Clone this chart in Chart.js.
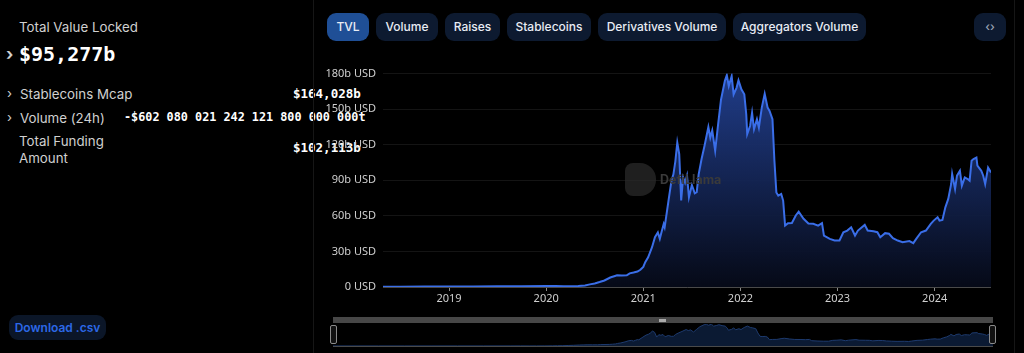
<!DOCTYPE html>
<html>
<head>
<meta charset="utf-8">
<script src="https://cdn.jsdelivr.net/npm/chart.js@4"></script>
<style>
  html, body { margin: 0; padding: 0; background: #000; overflow: hidden; }
  body { width: 1024px; height: 353px; position: relative; font-family: Inter, "Noto Sans", sans-serif; color: #fff; }
  .abs { position: absolute; white-space: nowrap; }
  .lbl { color: #d0d0d0; font-size: 13.3px; }
  .mono { font-family: "DejaVu Sans Mono", monospace; font-weight: bold; color: #fff; }
  .chev { color: #cfcfcf; font-size: 13px; }
  .btn { position: absolute; top: 13px; height: 28px; line-height: 28px; border-radius: 9px; background: #0d1a30; color: #e8ecf4; font-size: 12px; font-weight: 500; text-align: center; }
  .btn.on { background: #1f4f96; }
  #main { position: absolute; left: 313px; top: 60px; width: 678px; height: 247px; }
  #mini { position: absolute; left: 333px; top: 324px; width: 660px; height: 22px; }
</style>
</head>
<body>
<!-- left summary panel -->
<div class="abs lbl" style="left:19px;top:19px;">Total Value Locked</div>
<div class="abs chev" style="left:6px;top:44px;font-size:17px;font-weight:bold;">›</div>
<div class="abs mono" style="left:19px;top:42px;font-size:20px;">$95,277b</div>

<div class="abs chev" style="left:7px;top:85px;">›</div>
<div class="abs lbl" style="left:20px;top:86px;">Stablecoins Mcap</div>
<div class="abs mono" style="left:293px;top:86px;font-size:12.5px;">$164,028b</div>

<div class="abs chev" style="left:7px;top:109px;">›</div>
<div class="abs lbl" style="left:20px;top:110px;">Volume (24h)</div>
<div class="abs mono" style="left:124px;top:110px;font-size:11.8px;">-$602 080 021 242 121 800 000 000t</div>

<div class="abs lbl" style="left:19px;top:133px;line-height:17px;">Total Funding<br>Amount</div>
<div class="abs mono" style="left:293px;top:140px;font-size:12.5px;">$102,113b</div>

<div class="abs" style="left:9px;top:315px;width:97px;height:25px;line-height:25px;border-radius:9px;background:#0b1628;color:#2c68e6;font-size:12px;font-weight:600;text-align:center;">Download .csv</div>

<div class="abs" style="left:313px;top:0;width:1px;height:353px;background:#161616;"></div>
<div class="abs" style="left:1014px;top:0;width:1px;height:353px;background:#161616;"></div>

<!-- chart selector buttons -->
<div class="btn on" style="left:327px;width:42px;">TVL</div>
<div class="btn" style="left:376px;width:62px;">Volume</div>
<div class="btn" style="left:445px;width:55px;">Raises</div>
<div class="btn" style="left:507px;width:84px;">Stablecoins</div>
<div class="btn" style="left:598px;width:128px;">Derivatives Volume</div>
<div class="btn" style="left:733px;width:133px;">Aggregators Volume</div>
<div class="btn" style="left:974px;width:32px;color:#9aa3b5;font-size:12px;">&lsaquo;&rsaquo;</div>

<div id="main"><canvas id="tvlChart"></canvas></div>

<!-- watermark -->
<div class="abs" style="left:625px;top:163px;width:31px;height:33px;border-radius:8px 16px 16px 8px;background:#2a2a2a;opacity:0.75;"></div>
<div class="abs" style="left:660px;top:172px;color:#3a3a3a;font-size:12.5px;font-weight:700;">DefiLlama</div>

<!-- range brush -->
<div class="abs" style="left:333px;top:317px;width:660px;height:6px;background:#474747;"></div>
<div class="abs" style="left:659px;top:319px;width:7px;height:3px;background:#aaa;"></div>
<div id="mini"><canvas id="miniChart"></canvas></div>
<div class="abs" style="left:333px;top:346px;width:660px;height:1px;background:#4a4a4a;"></div>
<div class="abs" style="left:330px;top:325px;width:5px;height:17px;border:1px solid #8a8a8a;border-radius:2px;background:#111;"></div>
<div class="abs" style="left:989px;top:325px;width:5px;height:17px;border:1px solid #8a8a8a;border-radius:2px;background:#111;"></div>

<script>
// dates as decimal years, TVL in billions USD
const years = [
  2018.32, 2018.5, 2018.75, 2019.0, 2019.25, 2019.5, 2019.75, 2020.0, 2020.1, 2020.18,
  2020.25, 2020.33, 2020.4, 2020.45, 2020.5, 2020.55, 2020.6, 2020.66, 2020.7, 2020.73,
  2020.78, 2020.83, 2020.86, 2020.9, 2020.94, 2020.97, 2021.0, 2021.02, 2021.05, 2021.09,
  2021.12, 2021.15, 2021.17, 2021.19, 2021.21, 2021.22, 2021.26, 2021.29, 2021.31, 2021.33,
  2021.35, 2021.37, 2021.39, 2021.41, 2021.43, 2021.45, 2021.47, 2021.5, 2021.53, 2021.55,
  2021.57, 2021.6, 2021.63, 2021.67, 2021.69, 2021.71, 2021.74, 2021.77, 2021.8, 2021.84,
  2021.86, 2021.88, 2021.91, 2021.93, 2021.96, 2021.98, 2022.01, 2022.04, 2022.06, 2022.07,
  2022.1, 2022.12, 2022.14, 2022.17, 2022.19, 2022.22, 2022.25, 2022.28, 2022.3, 2022.33,
  2022.35, 2022.37, 2022.39, 2022.42, 2022.44, 2022.46, 2022.49, 2022.53, 2022.57, 2022.6,
  2022.65, 2022.7, 2022.75, 2022.8, 2022.84, 2022.86, 2022.92, 2022.97, 2023.02, 2023.06,
  2023.1, 2023.14, 2023.18, 2023.21, 2023.28, 2023.31, 2023.37, 2023.41, 2023.44, 2023.49,
  2023.53, 2023.57, 2023.62, 2023.67, 2023.74, 2023.78, 2023.81, 2023.86, 2023.91, 2023.96,
  2023.99, 2024.03, 2024.05, 2024.08, 2024.11, 2024.14, 2024.17, 2024.18, 2024.21, 2024.23,
  2024.26, 2024.28, 2024.31, 2024.34, 2024.36, 2024.38, 2024.4, 2024.43, 2024.44, 2024.48,
  2024.5, 2024.52, 2024.55, 2024.58
];
const tvl = [
  0.3, 0.3, 0.4, 0.4, 0.5, 0.6, 0.6, 0.8, 0.9, 0.6,
  0.7, 0.9, 1.3, 2.2, 3.0, 4.2, 5.5, 8.0, 9.0, 9.8,
  9.6, 9.8, 11.5, 12.2, 13.0, 14.5, 17, 21, 25, 33.6,
  42, 46, 40.6, 47, 53, 50.4, 73, 89.7, 95, 106,
  121.8, 112, 73, 92.4, 88, 93.9, 75.6, 86, 79, 80,
  95, 108, 119, 135, 126, 132, 115, 137, 158, 174,
  178.7, 169.5, 177.9, 162.5, 168, 174.3, 166.7, 162.5, 145.7, 129,
  136, 147, 133, 141.5, 134.5, 151.3, 163, 151.3, 148.5, 141.5,
  106.5, 79.8, 77, 78.5, 72.9, 51.8, 53.8, 54, 60.3, 63.5,
  57.5, 53.5, 53.3, 51.8, 53.8, 43.4, 40.6, 39.2, 39.2, 46.2,
  47.6, 50.4, 43.4, 47.6, 52.4, 47.6, 47, 46.2, 42, 45.4,
  44.9, 41.2, 39.2, 37.8, 38.7, 37, 40.6, 46.2, 47.6, 53.3,
  56, 58.8, 56, 56.6, 67.2, 74.3, 86.9, 95.3, 82.7, 93.9,
  98, 85.5, 92.4, 91.1, 89.7, 106.5, 107.9, 109.2, 102.3, 98,
  93.9, 86.9, 100.8, 96.6
];
const yearTicks = [2019, 2020, 2021, 2022, 2023, 2024];
const valueTicks = [0, 30, 60, 90, 120, 150, 180];

const points = years.map((x, i) => ({ x, y: tvl[i] }));

function fillGradient(context, top, bottom) {
  const { ctx, chartArea } = context.chart;
  if (!chartArea) return top;
  const g = ctx.createLinearGradient(0, chartArea.top, 0, chartArea.bottom);
  g.addColorStop(0, top);
  g.addColorStop(1, bottom);
  return g;
}

const tickFont = { family: 'Noto Sans', size: 11 };

new Chart(document.getElementById('tvlChart').getContext('2d'), {
  type: 'line',
  data: {
    datasets: [{
      label: 'TVL',
      data: points,
      borderColor: '#3a6ee8',
      borderWidth: 2,
      pointRadius: 0,
      tension: 0,
      fill: 'origin',
      backgroundColor: (c) => fillGradient(c, 'rgba(34,64,145,0.95)', 'rgba(6,10,24,0.95)'),
    }],
  },
  options: {
    responsive: true,
    maintainAspectRatio: false,
    animation: false,
    layout: { padding: { top: 12.5, right: 0, bottom: 0, left: 0 } },
    plugins: { legend: { display: false }, tooltip: { enabled: false } },
    scales: {
      x: {
        type: 'linear',
        min: years[0],
        max: years[years.length - 1],
        afterBuildTicks: (axis) => { axis.ticks = yearTicks.map((v) => ({ value: v })); },
        afterFit: (axis) => { axis.height = 20; },
        grid: { display: true, drawOnChartArea: false, drawTicks: true, tickLength: 4, color: '#8a8a8a' },
        border: { display: true, color: '#4a4a4a' },
        ticks: { color: '#cfcfcf', font: tickFont, padding: 1, callback: (v) => String(v) },
      },
      y: {
        min: 0,
        max: 180,
        afterBuildTicks: (axis) => { axis.ticks = valueTicks.map((v) => ({ value: v })); },
        afterFit: (axis) => { axis.width = 70; },
        grid: { color: 'rgba(255,255,255,0.08)', drawTicks: false },
        border: { display: false },
        ticks: {
          color: '#cfcfcf',
          font: tickFont,
          padding: 7,
          callback: (v) => (v === 0 ? '0 USD' : v + 'b USD'),
        },
      },
    },
  },
});

new Chart(document.getElementById('miniChart').getContext('2d'), {
  type: 'line',
  data: {
    datasets: [{
      data: points,
      borderColor: '#1d3a6e',
      borderWidth: 1,
      pointRadius: 0,
      fill: 'origin',
      backgroundColor: '#0b1a33',
    }],
  },
  options: {
    responsive: true,
    maintainAspectRatio: false,
    animation: false,
    plugins: { legend: { display: false }, tooltip: { enabled: false } },
    scales: {
      x: { type: 'linear', display: false, min: years[0], max: years[years.length - 1] },
      y: { display: false, min: 0, max: 180 },
    },
  },
});
</script>
</body>
</html>
